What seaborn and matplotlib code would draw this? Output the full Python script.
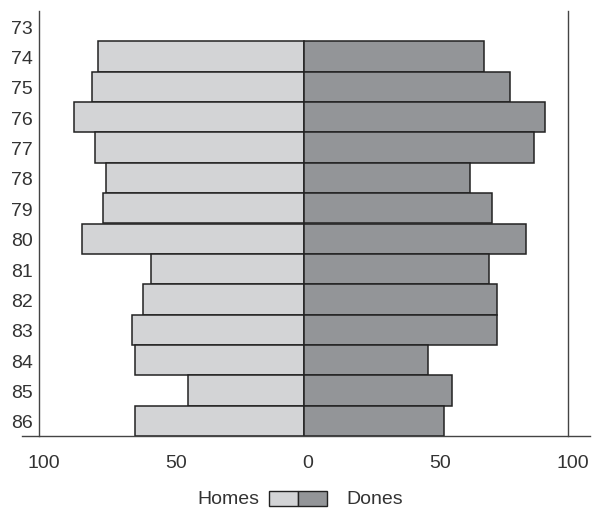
import numpy as np
import pandas as pd
import matplotlib
matplotlib.use("Agg")
import matplotlib.pyplot as plt
import matplotlib.transforms as mtransforms
from matplotlib.patches import Rectangle
import seaborn as sns

# Dades llegides del gràfic original
anys = ['73', '74', '75', '76', '77', '78', '79', '80', '81', '82', '83', '84', '85', '86']
homes = [np.nan, 78, 80, 87, 79, 75, 76, 84, 58, 61, 65, 64, 44, 64]
dones = [np.nan, 68, 78, 91, 87, 63, 71, 84, 70, 73, 73, 47, 56, 53]
xticks = [-100, -50, 0, 50, 100]

color_homes = '#d3d4d6'
color_dones = '#939598'
gris_text = '#333333'

sns.set_style('white')
plt.rcParams['font.family'] = ['Liberation Sans', 'DejaVu Sans']

df = pd.DataFrame({'any': anys, 'homes': homes, 'dones': dones})
df['homes_neg'] = -df['homes']

fig = plt.figure(figsize=(5.92, 5.10), dpi=100)
ax = fig.add_axes([22 / 592, 1 - 437 / 510, (590 - 22) / 592, (437 - 12) / 510])

sns.barplot(data=df, x='homes_neg', y='any', order=anys, orient='h', width=1.0,
            color=color_homes, saturation=1, edgecolor='#222222', linewidth=1.1, ax=ax)
sns.barplot(data=df, x='dones', y='any', order=anys, orient='h', width=1.0,
            color=color_dones, saturation=1, edgecolor='#222222', linewidth=1.1, ax=ax)

ax.set_xlim(-106.6, 108.2)
ax.set_ylim(len(anys) - 0.5, -0.5)

# eixos: verticals a -100 i 100, horitzontal a baix
ax.spines['left'].set_position(('data', -100))
ax.spines['right'].set_position(('data', 100))
ax.spines['top'].set_visible(False)
for s in ['left', 'right', 'bottom']:
    ax.spines[s].set_color('#444444')
    ax.spines[s].set_linewidth(1.0)

ax.set_xticks(xticks)
ax.set_xticklabels([str(abs(v)) for v in xticks])
ax.tick_params(axis='x', direction='out', length=7, width=1.0, color='#444444',
               labelsize=14, labelcolor=gris_text, pad=6)
ax.tick_params(axis='y', length=0, labelsize=14, labelcolor=gris_text, pad=5)
ax.set_xlabel('')
ax.set_ylabel('')

# les etiquetes de l'original queden una mica desplaçades a la dreta
despl = mtransforms.ScaledTranslation(4 / 100, 0, fig.dpi_scale_trans)
for lbl in ax.get_xticklabels():
    lbl.set_transform(lbl.get_transform() + despl)

# llegenda: Homes [clar][fosc] Dones
fig.text(259 / 592, 1 - 500 / 510, 'Homes', ha='right', va='center',
         fontsize=14, color=gris_text)
fig.patches.append(Rectangle((269 / 592, 1 - 507 / 510), 29 / 592, 15 / 510,
                             transform=fig.transFigure, facecolor=color_homes,
                             edgecolor='#222222', linewidth=1.0))
fig.patches.append(Rectangle((298 / 592, 1 - 507 / 510), 29 / 592, 15 / 510,
                             transform=fig.transFigure, facecolor=color_dones,
                             edgecolor='#222222', linewidth=1.0))
fig.text(346 / 592, 1 - 500 / 510, 'Dones', ha='left', va='center',
         fontsize=14, color=gris_text)

fig.savefig('out.png', dpi=100)
